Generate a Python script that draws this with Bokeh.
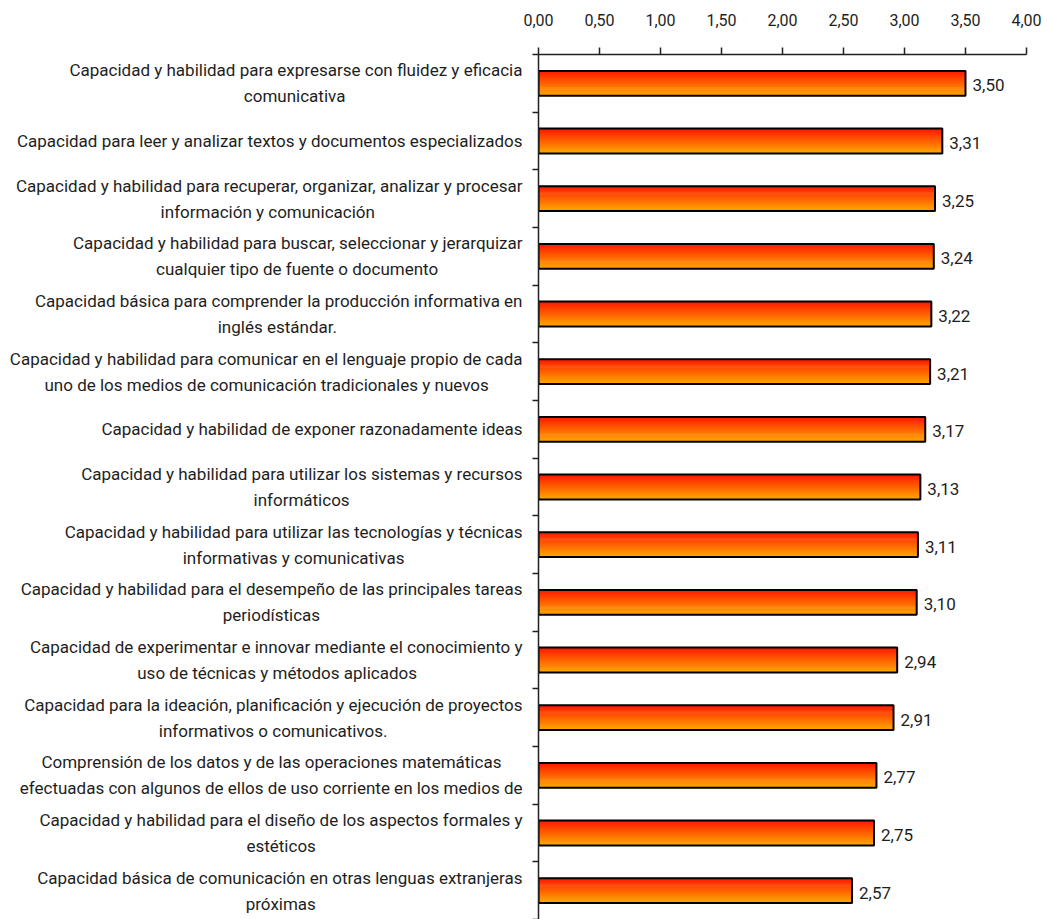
from bokeh.plotting import figure
from bokeh.models import (Range1d, LinearAxis, FixedTicker, ColumnDataSource, CustomJSTickFormatter)
from bokeh.transform import dodge
from bokeh.core.properties import value
from bokeh.embed import file_html
from bokeh.resources import INLINE

categories = [
    "Capacidad y habilidad para expresarse con fluidez y eficacia\ncomunicativa",
    "Capacidad para leer y analizar textos y documentos especializados",
    "Capacidad y habilidad para recuperar, organizar, analizar y procesar\ninformación y comunicación",
    "Capacidad y habilidad para buscar, seleccionar y jerarquizar\ncualquier tipo de fuente o documento",
    "Capacidad básica para comprender la producción informativa en\ninglés estándar.",
    "Capacidad y habilidad para comunicar en el lenguaje propio de cada\nuno de los medios de comunicación tradicionales y nuevos",
    "Capacidad y habilidad de exponer razonadamente ideas",
    "Capacidad y habilidad para utilizar los sistemas y recursos\ninformáticos",
    "Capacidad y habilidad para utilizar las tecnologías y técnicas\ninformativas y comunicativas",
    "Capacidad y habilidad para el desempeño de las principales tareas\nperiodísticas",
    "Capacidad de experimentar e innovar mediante el conocimiento y\nuso de técnicas y métodos aplicados",
    "Capacidad para la ideación, planificación y ejecución de proyectos\ninformativos o comunicativos.",
    "Comprensión de los datos y de las operaciones matemáticas\nefectuadas con algunos de ellos de uso corriente en los medios de",
    "Capacidad y habilidad para el diseño de los aspectos formales y\nestéticos",
    "Capacidad básica de comunicación en otras lenguas extranjeras\npróximas",
]
values = [3.50, 3.31, 3.25, 3.24, 3.22, 3.21, 3.17, 3.13, 3.11, 3.10, 2.94, 2.91, 2.77, 2.75, 2.57]
value_labels = ["3,50", "3,31", "3,25", "3,24", "3,22", "3,21", "3,17", "3,13", "3,11", "3,10",
                "2,94", "2,91", "2,77", "2,75", "2,57"]
x_ticks = [0, 0.5, 1.0, 1.5, 2.0, 2.5, 3.0, 3.5, 4.0]
x_tick_labels = ["0,00", "0,50", "1,00", "1,50", "2,00", "2,50", "3,00", "3,50", "4,00"]

FONT = "Roboto"
LABEL_SIZE = "17px"
TXT = "#1e1e1e"

n = len(categories)
# category i occupies the band [n-1-i, n-i]; first category at the top
ypos = [n - 0.5 - i for i in range(n)]
src = ColumnDataSource(dict(y=ypos, cat=categories, val=values, lbl=value_labels))

p = figure(width=1047, height=919,
           y_range=Range1d(0, n), x_range=Range1d(0, 4),
           x_axis_location="above", y_axis_location=None,
           output_backend="svg", toolbar_location=None,
           min_border_left=538, min_border_right=21, min_border_top=54, min_border_bottom=0)
p.grid.visible = False
p.outline_line_color = None
p.background_fill_color = "white"
p.border_fill_color = "white"

# top axis
xa = p.xaxis[0]
xa.ticker = FixedTicker(ticks=x_ticks)
xa.formatter = CustomJSTickFormatter(args=dict(tvals=x_ticks, tlabels=x_tick_labels), code="""
const i = tvals.findIndex(t => Math.abs(t - tick) < 1e-9);
return i >= 0 ? tlabels[i] : '';
""")
xa.major_tick_out = 7
xa.major_tick_in = 0
xa.minor_tick_line_color = None
xa.axis_line_color = "#222222"
xa.major_tick_line_color = "#222222"
xa.axis_line_width = 1.5
xa.major_tick_line_width = 1.5
xa.major_label_standoff = 22
xa.major_label_text_font = FONT
xa.major_label_text_font_size = "16px"
xa.major_label_text_color = TXT

# left axis: line with (minor) ticks at the category boundaries, no labels
tick_axis = LinearAxis(ticker=FixedTicker(ticks=[], minor_ticks=list(range(0, n + 1))),
                       major_label_standoff=0,
                       major_tick_line_color=None,
                       minor_tick_out=6, minor_tick_in=0,
                       axis_line_color="#222222", minor_tick_line_color="#222222",
                       axis_line_width=1.5, minor_tick_line_width=1.5)
p.add_layout(tick_axis, "left")

# left axis: category labels at band centres; lines of a label centred on each other
label_axis = LinearAxis(ticker=FixedTicker(ticks=ypos),
                        formatter=CustomJSTickFormatter(
                            args=dict(cpos=ypos, clabels=categories, cfont=LABEL_SIZE + " " + FONT),
                            code="""
const i = cpos.findIndex(t => Math.abs(t - tick) < 1e-6);
if (i < 0) return '';
const lines = clabels[i].split('\\n');
if (lines.length < 2) return clabels[i];
const ctx = document.createElement('canvas').getContext('2d');
ctx.font = cfont;
const w = lines.map(l => ctx.measureText(l).width);
const wmax = Math.max(...w);
const sp = ctx.measureText('\\u00a0').width;
return lines.map((l, k) => l + '\\u00a0'.repeat(Math.max(0, Math.round((wmax - w[k]) / 2 / sp)))).join('\\n');
"""),
                        axis_line_color=None, major_tick_line_color=None,
                        minor_tick_line_color=None, major_label_standoff=4,
                        major_label_text_font=FONT, major_label_text_font_size=LABEL_SIZE,
                        major_label_text_line_height=1.3,
                        major_label_text_color=TXT)
p.add_layout(label_axis, "left")

# gradient bars (red on top to orange at bottom)
H = 0.43
N = 24
top = (255, 25, 0)
bot = (255, 165, 0)
for k in range(N):
    t = k / (N - 1)
    c = tuple(int(round(top[j] + (bot[j] - top[j]) * t)) for j in range(3))
    off = H / 2 - (k + 0.5) * H / N
    p.hbar(y=dodge("y", off), left=0, right="val", height=H / N * 1.6,
           fill_color="#%02x%02x%02x" % c, line_color=None, source=src)
p.hbar(y="y", left=0, right="val", height=H, fill_color=None,
       line_color="black", line_width=2, source=src)

p.text(x="val", y="y", text="lbl", x_offset=7, y_offset=2, text_align="left",
       text_baseline="middle", text_font=value(FONT), text_font_size="17px",
       text_color=TXT, source=src)

open("out.html", "w").write(file_html(p, INLINE))
